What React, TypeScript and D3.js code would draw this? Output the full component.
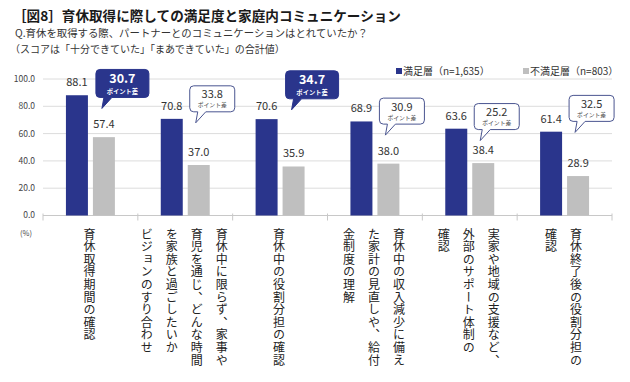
import React from 'react';
import * as d3 from 'd3';

const categories: string[][] = [
  ['育休取得期間の確認'],
  ['育休中に限らず、家事や', '育児を通じ、どんな時間', 'を家族と過ごしたいか', 'ビジョンのすり合わせ'],
  ['育休中の役割分担の確認'],
  ['育休中の収入減少に備え', 'た家計の見直しや、給付', '金制度の理解'],
  ['実家や地域の支援など、', '外部のサポート体制の', '確認'],
  ['育休終了後の役割分担の', '確認'],
];
const satisfied = [88.1, 70.8, 70.6, 68.9, 63.6, 61.4];
const unsatisfied = [57.4, 37.0, 35.9, 38.0, 38.4, 28.9];
const highlighted = [true, false, true, false, false, false];
const calloutLevel = [107, 95, 106, 86, 82, 88];
const yTicks = [0, 20, 40, 60, 80, 100];
const seriesNames = ['満足層（n=1,635）', '不満足層（n=803）'];

const NAVY = '#2a358c';
const GRAY = '#bfbfbf';
const FONT = '"Noto Sans CJK JP", "Noto Sans", sans-serif';

function calloutPath(l: number, t: number, w: number, h: number, r: number, tipX: number, tipY: number, b1: number, b2: number) {
  const R = l + w, B = t + h;
  return `M${l + r},${t}H${R - r}Q${R},${t} ${R},${t + r}V${B - r}Q${R},${B} ${R - r},${B}H${b2}L${tipX},${tipY}L${b1},${B}H${l + r}Q${l},${B} ${l},${B - r}V${t + r}Q${l},${t} ${l + r},${t}Z`;
}

export default function App() {
  const W = 630, H = 382;
  const x = d3.scaleBand<number>().domain(d3.range(categories.length)).range([43, 612]).padding(0);
  const inner = d3.scaleBand<string>().domain(['s', 'u']).range([0, x.bandwidth()]).paddingInner(0.185).paddingOuter(0.85);
  const y = d3.scaleLinear().domain([0, 100]).range([215.5, 79]);
  const fmt = d3.format('.1f');
  const bw = inner.bandwidth();

  return (
    <svg width={W} height={H} style={{ position: 'absolute', left: 0, top: 0, background: '#fff' }} fontFamily={FONT}>
      <rect width={W} height={H} fill="#fff" />
      <text x={13} y={21} fontSize={13.6} fontWeight={700} fill="#1a1a1a">［図8］育休取得に際しての満足度と家庭内コミュニケーション</text>
      <text x={15} y={37} fontSize={10.4} fill="#333">Q.育休を取得する際、パートナーとのコミュニケーションはとれていたか？</text>
      <text x={10} y={53} fontSize={10} fill="#333">（スコアは「十分できていた」「まあできていた」の合計値）</text>

      {/* grid */}
      {yTicks.map(t => (
        <g key={t}>
          {t > 0 && <line x1={43} x2={612} y1={y(t)} y2={y(t)} stroke="#dcdcdc" strokeWidth={1} />}
          <text x={35} y={y(t)} dy="0.35em" textAnchor="end" fontSize={8.5} fill="#444">{fmt(t)}</text>
        </g>
      ))}
      <line x1={43} x2={612} y1={y(0)} y2={y(0)} stroke="#c8c8c8" strokeWidth={1} />
      {d3.range(categories.length + 1).map(i => {
        const xx = i < categories.length ? x(i)! : x(categories.length - 1)! + x.bandwidth();
        return <line key={i} x1={xx} x2={xx} y1={y(0) - 2} y2={y(0) + 5} stroke="#c8c8c8" />;
      })}
      <text x={20} y={236} fontSize={7.5} fill="#444">(%)</text>

      {/* legend */}
      <rect x={396} y={68} width={6} height={6} fill={NAVY} />
      <text x={403} y={71} dy="0.35em" fontSize={10} fill="#333">{seriesNames[0]}</text>
      <rect x={523} y={68} width={6} height={6} fill={GRAY} />
      <text x={530} y={71} dy="0.35em" fontSize={10} fill="#333">{seriesNames[1]}</text>

      {/* bars */}
      {categories.map((_, i) => {
        const x0 = x(i)!;
        const sx = x0 + inner('s')!;
        const ux = x0 + inner('u')!;
        return (
          <g key={i}>
            <rect x={sx} y={y(satisfied[i])} width={bw} height={y(0) - y(satisfied[i])} fill={NAVY} />
            <rect x={ux} y={y(unsatisfied[i])} width={bw} height={y(0) - y(unsatisfied[i])} fill={GRAY} />
            <text x={sx + bw / 2} y={y(satisfied[i]) - 9} textAnchor="middle" fontSize={11} fill="#333">{fmt(satisfied[i])}</text>
            <text x={ux + bw / 2} y={y(unsatisfied[i]) - 9} textAnchor="middle" fontSize={11} fill="#333">{fmt(unsatisfied[i])}</text>
          </g>
        );
      })}

      {/* callouts */}
      {categories.map((_, i) => {
        const ux = x(i)! + inner('u')!;
        const hi = highlighted[i];
        const w = hi ? 53 : 45;
        const h = hi ? 28 : 26;
        const l = ux + (hi ? 3 : 2);
        const t = y(calloutLevel[i]);
        const diff = satisfied[i] - unsatisfied[i];
        return (
          <g key={i}>
            <path d={calloutPath(l, t, w, h, 4, l + 6, t + h + 11, l + 8, l + 16)}
              fill={hi ? NAVY : '#fff'} stroke={hi ? NAVY : '#4a5590'} strokeWidth={1} />
            <text x={l + w / 2} y={t + (hi ? 13.5 : 12.5)} textAnchor="middle" fontSize={hi ? 12.5 : 11}
              fontWeight={hi ? 700 : 400} fill={hi ? '#fff' : '#333'}>{fmt(diff)}</text>
            <text x={l + w / 2} y={t + (hi ? 24.5 : 21.5)} textAnchor="middle" fontSize={hi ? 6.3 : 5.8}
              fontWeight={hi ? 700 : 400} fill={hi ? '#fff' : '#444'}>ポイント差</text>
          </g>
        );
      })}

      {/* vertical category labels */}
      {categories.map((lines, i) => {
        const cx = x(i)! + x.bandwidth() / 2 - 1;
        const n = lines.length;
        return (
          <g key={i}>
            {lines.map((ln, j) => {
              const colX = cx + ((n - 1) / 2 - j) * 25;
              return (
                <text key={j} x={colX} y={228} fontSize={12} fill="#222" letterSpacing={0.6}
                  style={{ writingMode: 'vertical-rl' } as React.CSSProperties}>{ln}</text>
              );
            })}
          </g>
        );
      })}
    </svg>
  );
}
